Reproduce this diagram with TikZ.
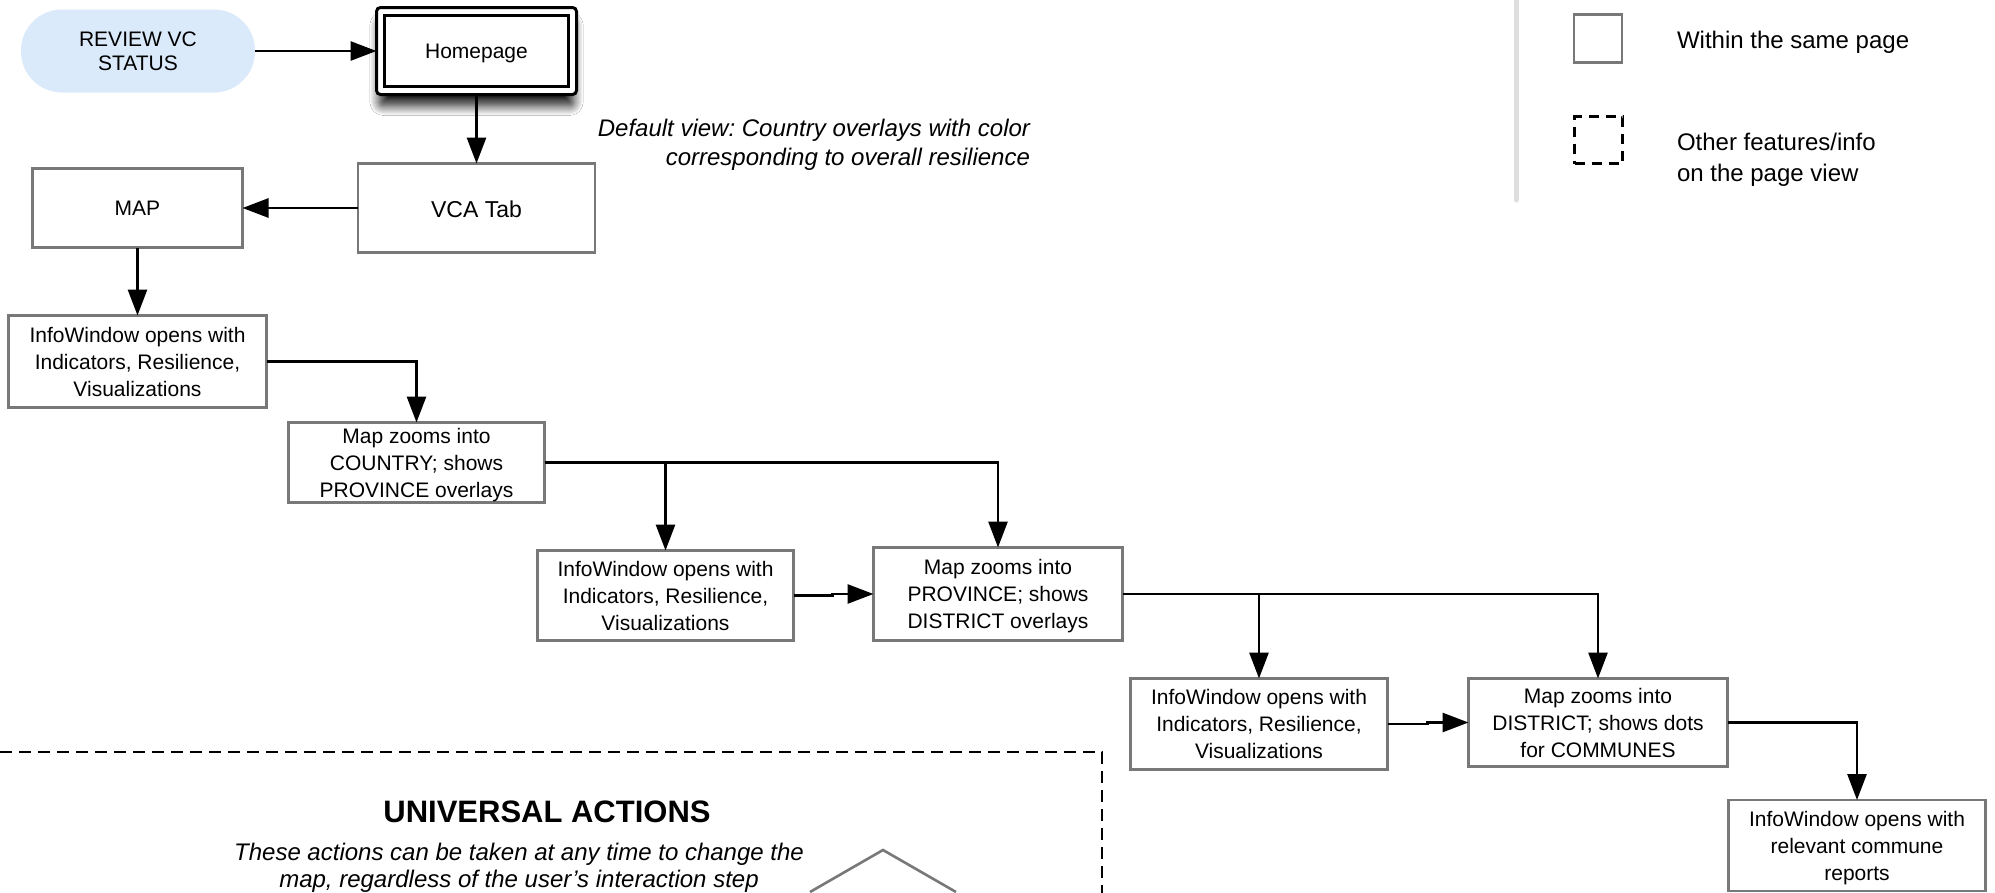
\documentclass[tikz,border=0pt]{standalone}
\usepackage{fontspec}
\setmainfont{Liberation Sans}
\usetikzlibrary{arrows.meta,shadows.blur}
\definecolor{boxgray}{RGB}{120,120,120}
\definecolor{pillblue}{RGB}{218,234,251}
\definecolor{legline}{RGB}{222,222,222}
\frenchspacing
\begin{document}
\begin{tikzpicture}[x=1pt,y=-1pt,
  every node/.style={font=\fontsize{21}{27}\selectfont, align=center, inner sep=0pt, outer sep=0pt, text depth=0pt},
  box/.style={draw=boxgray, line width=2.8pt, fill=white},
  conn/.style={line width=2.8pt, -{Triangle[length=26pt,width=19pt]}},
  txt24/.style={font=\fontsize{24}{31}\selectfont},
  ]
\useasboundingbox (0,0) rectangle (1995,892);
\fill[white] (0,0) rectangle (1995,892);

% legend
\draw[legline, line width=5pt, line cap=round] (1516,-10) -- (1516,200);
\node[draw=boxgray, line width=2.8pt, minimum width=48pt, minimum height=48pt] (lsolid) at (1598,38.5) {};
\node[txt24, anchor=west] (lsolidt) at (1677,40) {Within the same page};
\node[draw=black, line width=2.6pt, dash pattern=on 10pt off 7pt, minimum width=48pt, minimum height=47pt] (ldash) at (1598.5,140) {};
\node[txt24, anchor=west, align=left] (ldasht) at (1677,157) {Other features/info\\on the page view};

% start and homepage
\node[fill=pillblue, rounded corners=41pt, minimum width=234pt, minimum height=83pt, font=\fontsize{21}{24}\selectfont] (pill) at (138,51) {REVIEW VC\\STATUS};
\node[draw=black, line width=3pt, fill=white, rounded corners=4pt, minimum width=200pt, minimum height=87pt,
      blur shadow={shadow xshift=0pt, shadow yshift=-13pt, shadow blur radius=10pt, shadow blur steps=14, shadow opacity=90, shadow scale=0.97}] (homeo) at (476.5,51) {};
\node[draw=black, line width=3pt, minimum width=184pt, minimum height=71pt] (home) at (476.5,51) {Homepage};

\node[font=\itshape\fontsize{24}{29}\selectfont, align=right, anchor=east] (dv) at (1030,142) {Default view: Country overlays with color\\corresponding to overall resilience};

% flow boxes
\node[box, minimum width=237pt, minimum height=89pt, font=\fontsize{23}{28}\selectfont] (vca) at (476.5,208) {\raisebox{-2pt}{VCA Tab}};
\node[box, minimum width=210pt, minimum height=79pt] (map) at (137.5,208) {MAP};
\node[box, minimum width=258pt, minimum height=92pt] (iw1) at (137.5,361.5) {InfoWindow opens with\\Indicators, Resilience,\\Visualizations};
\node[box, minimum width=256pt, minimum height=80pt] (country) at (416.5,462.5) {Map zooms into\\COUNTRY; shows\\PROVINCE overlays};
\node[box, minimum width=256pt, minimum height=90pt] (iw2) at (665.5,595.5) {InfoWindow opens with\\Indicators, Resilience,\\Visualizations};
\node[box, minimum width=249pt, minimum height=93pt] (prov) at (998,594) {Map zooms into\\PROVINCE; shows\\DISTRICT overlays};
\node[box, minimum width=257pt, minimum height=91pt] (iw3) at (1259,724) {InfoWindow opens with\\Indicators, Resilience,\\Visualizations};
\node[box, minimum width=259pt, minimum height=88pt] (dist) at (1598,722.5) {Map zooms into\\DISTRICT; shows dots\\for COMMUNES};
\node[box, minimum width=257pt, minimum height=91pt] (iw4) at (1857,845.5) {InfoWindow opens with\\relevant commune\\reports};

% connectors
\draw[conn] (pill) -- (homeo);
\draw[conn] (homeo) -- (vca);
\draw[conn] (vca) -- (map);
\draw[conn] (map) -- (iw1);
\draw[conn] (iw1.east) -| (country.north);
\draw[conn] (country.east) -| (prov.north);
\draw[conn] (country.east -| iw2.north) -- (iw2.north);
\draw[conn] (iw2.east) -- ++(39,0) |- (prov.west);
\draw[conn] (prov.east) -| (dist.north);
\draw[conn] (prov.east -| iw3.north) -- (iw3.north);
\draw[conn] (iw3.east) -- ++(40,0) |- (dist.west);
\draw[conn] (dist.east) -| (iw4.north);

% universal actions
\draw[line width=2.6pt, dash pattern=on 12pt off 7pt] (0,752) -- (1102,752) -- (1102,900);
\node[font=\bfseries\fontsize{31}{37}\selectfont] (uah) at (547,812) {UNIVERSAL ACTIONS};
\node[font=\itshape\fontsize{24}{27}\selectfont] (uat) at (519,865) {These actions can be taken at any time to change the\\map, regardless of the user's interaction step};
\draw[boxgray, line width=2.6pt] (810,892) -- (883,850) -- (956,892);
\end{tikzpicture}
\end{document}
